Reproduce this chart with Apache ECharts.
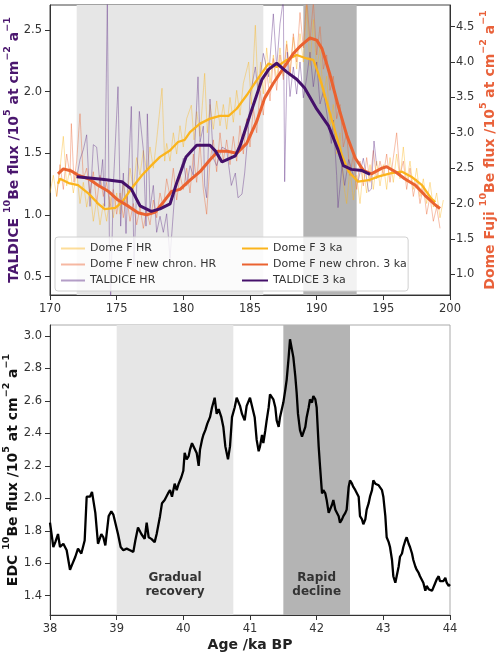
<!DOCTYPE html>
<html><head><meta charset="utf-8">
<script src="https://cdn.jsdelivr.net/npm/echarts@6/dist/echarts.min.js"></script>
<style>html,body{margin:0;padding:0;background:#fff}#c{width:500px;height:657px}</style>
</head><body><div id="c"></div>
<script>
// ---- tick labels ----
const topAgeTicks = [170,175,180,185,190,195,200];
const taldiceTicks = [0.5,1.0,1.5,2.0,2.5];
const domeFTicks = [1.0,1.5,2.0,2.5,3.0,3.5,4.0,4.5];
const edcTicks = [1.4,1.6,1.8,2.0,2.2,2.4,2.6,2.8,3.0];

// ---- top panel: [age ka, flux] ----
const domeFHR = [[170.0,2.15],[170.25,2.4],[170.5,2.1],[170.75,2.5],[171.0,2.95],[171.25,2.25],[171.5,2.5],[171.75,2.15],[172.0,2.45],[172.25,2.0],[172.5,2.3],[172.75,1.95],[173.0,2.2],[173.25,1.75],[173.5,2.05],[173.75,1.7],[174.0,2.0],[174.25,1.75],[174.5,2.1],[174.75,1.8],[175.0,2.15],[175.25,1.85],[175.5,2.3],[175.75,2.0],[176.0,2.5],[176.25,2.2],[176.5,2.65],[176.75,2.4],[177.0,2.75],[177.25,2.45],[177.5,2.8],[177.75,2.5],[178.0,2.9],[178.4,3.63],[178.6,2.6],[178.75,2.85],[179.0,2.6],[179.25,3.0],[179.5,2.7],[179.75,3.1],[180.0,2.8],[180.25,3.2],[180.6,3.39],[180.8,2.9],[181.0,3.3],[181.25,2.95],[181.6,3.84],[181.8,3.0],[182.0,3.4],[182.25,3.05],[182.5,3.45],[182.75,3.1],[183.0,3.4],[183.25,3.05],[183.5,3.5],[183.75,3.15],[184.0,3.6],[184.25,3.25],[184.5,3.7],[184.9,4.0],[185.1,3.4],[185.4,4.52],[185.6,3.6],[185.8,4.0],[186.0,3.55],[186.25,4.2],[186.5,3.7],[186.75,4.1],[187.0,3.75],[187.25,4.2],[187.5,3.8],[187.75,4.3],[188.0,3.85],[188.25,4.35],[188.5,3.9],[188.75,4.4],[189.0,4.0],[189.25,4.8],[189.5,3.95],[189.75,4.6],[190.0,3.9],[190.25,4.2],[190.5,3.5],[190.75,3.8],[191.0,3.1],[191.25,3.4],[191.5,2.7],[191.75,3.0],[192.0,2.3],[192.25,2.0],[192.5,2.5],[192.75,2.05],[193.0,2.4],[193.25,2.0],[193.5,2.5],[193.75,2.15],[194.0,2.55],[194.25,2.2],[194.5,2.6],[194.75,2.25],[195.0,2.55],[195.25,2.2],[195.5,2.65],[195.75,2.3],[196.0,2.7],[196.25,2.35],[196.5,2.8],[196.75,2.3],[197.0,2.6],[197.25,2.2],[197.5,2.5],[197.75,2.1],[198.0,2.35],[198.25,2.0],[198.5,2.3],[198.75,1.95],[199.0,2.15],[199.25,1.8],[199.5,2.05]];

const domeFNewHR = [[170.5,2.1],[170.75,2.55],[171.0,2.2],[171.25,2.7],[171.5,2.4],[171.6,3.13],[171.8,2.3],[172.0,2.6],[172.25,3.27],[172.5,2.35],[172.75,2.5],[173.0,2.15],[173.25,2.45],[173.5,2.0],[173.75,2.4],[174.0,2.1],[174.25,2.3],[174.5,1.95],[174.75,2.2],[175.0,1.85],[175.25,2.15],[175.5,1.8],[175.75,2.1],[176.0,1.75],[176.25,2.0],[176.5,1.7],[176.75,1.95],[177.0,1.65],[177.25,1.9],[177.5,1.7],[177.75,2.05],[178.0,1.8],[178.25,2.15],[178.5,1.95],[178.75,2.35],[179.0,2.1],[179.25,2.5],[179.5,2.05],[179.75,2.4],[180.0,2.2],[180.25,2.5],[180.5,2.15],[180.75,2.7],[181.0,2.3],[181.25,2.85],[181.5,2.2],[181.75,1.85],[182.0,2.6],[182.25,2.9],[182.5,2.45],[182.75,3.0],[183.0,2.6],[183.25,2.9],[183.5,2.55],[183.75,2.95],[184.0,2.6],[184.25,3.1],[184.5,2.7],[184.75,3.2],[185.0,2.8],[185.25,3.35],[185.5,3.0],[185.75,3.6],[186.0,3.25],[186.25,3.9],[186.5,3.45],[186.75,4.05],[187.0,3.6],[187.25,4.1],[187.5,3.75],[187.75,4.25],[188.0,3.8],[188.25,4.4],[188.5,4.0],[188.75,4.7],[189.0,4.2],[189.25,4.9],[189.5,4.3],[189.75,4.85],[190.0,4.1],[190.25,4.5],[190.5,3.9],[190.75,4.1],[191.0,3.6],[191.25,3.8],[191.5,3.2],[191.75,3.4],[192.0,2.8],[192.25,3.0],[192.5,2.4],[192.75,2.7],[193.0,2.2],[193.25,2.6],[193.5,2.25],[193.75,2.65],[194.0,2.3],[194.25,2.75],[194.5,2.35],[194.75,2.6],[195.0,2.4],[195.25,2.7],[195.5,2.3],[195.75,2.65],[196.0,3.0],[196.25,2.4],[196.5,2.6],[196.75,2.2],[197.0,2.5],[197.25,2.1],[197.5,2.35],[197.75,2.0],[198.0,2.25],[198.25,1.85],[198.5,2.1],[198.75,1.75],[199.0,1.95],[199.25,1.65]];

const taldiceHR = [[172.0,1.30],[172.25,1.45],[172.5,1.53],[172.75,1.65],[173.0,1.07],[173.25,1.57],[173.5,1.55],[173.75,1.24],[173.95,1.45],[174.1,1.07],[174.3,2.75],[174.45,0.83],[174.55,0.30],[174.75,1.24],[175.1,2.04],[175.3,0.91],[175.5,1.34],[175.7,0.85],[176.1,1.88],[176.3,0.60],[176.45,1.07],[176.7,1.84],[177.0,1.53],[177.2,0.91],[177.3,1.82],[177.5,1.05],[177.75,1.24],[178.0,0.86],[178.25,0.99],[178.5,0.86],[178.75,1.01],[179.0,0.65],[179.4,1.24],[179.75,1.34],[180.0,1.46],[180.25,1.24],[180.5,1.40],[180.75,1.32],[181.1,2.12],[181.25,1.59],[181.5,1.72],[181.6,1.24],[181.75,1.14],[182.0,1.94],[182.25,1.46],[182.5,1.40],[182.9,1.55],[183.25,1.53],[183.6,1.24],[183.9,1.34],[184.1,1.14],[184.4,1.17],[184.6,1.34],[184.9,1.72],[185.0,1.96],[185.4,2.20],[185.6,2.00],[186.0,2.31],[186.4,2.12],[186.75,2.63],[187.0,2.20],[187.25,2.55],[187.5,2.75],[187.6,1.27],[187.8,2.32],[188.0,1.96],[188.25,2.20],[188.5,1.98],[188.75,2.24],[189.0,1.95],[189.25,2.11],[189.5,2.32],[189.75,2.04],[190.0,2.24],[190.25,1.90],[190.5,2.00],[190.9,1.73],[191.1,1.58],[191.25,1.77],[191.5,1.32],[191.6,1.06],[191.9,1.40],[192.1,1.24],[192.4,1.45],[192.75,1.32],[193.1,1.27],[193.5,1.46],[193.9,1.19],[194.1,1.21],[194.3,1.60],[194.5,1.40]];

const domeF3ka = [[170.6,2.28],[170.75,2.35],[171.4,2.29],[172.1,2.26],[172.9,2.14],[173.6,2.00],[174.1,1.92],[174.9,1.94],[175.4,2.02],[176.1,2.21],[176.9,2.40],[177.6,2.54],[178.25,2.66],[179.0,2.75],[179.6,2.87],[180.1,2.90],[180.5,3.01],[181.25,3.13],[182.0,3.20],[182.75,3.24],[183.4,3.24],[184.0,3.34],[184.75,3.53],[185.5,3.74],[186.4,3.98],[187.0,3.93],[187.75,4.03],[188.5,4.10],[189.25,4.05],[189.75,4.03],[190.1,3.85],[190.4,3.67],[190.9,3.34],[191.4,3.01],[191.9,2.68],[192.4,2.45],[193.1,2.31],[193.9,2.33],[194.6,2.38],[195.6,2.43],[196.4,2.45],[197.1,2.38],[197.9,2.26],[198.6,2.07],[198.9,2.02]];

const domeFNew3ka = [[170.6,2.42],[171.0,2.49],[171.6,2.46],[172.1,2.40],[172.9,2.35],[173.6,2.26],[174.4,2.17],[175.1,2.05],[175.9,1.96],[176.6,1.87],[177.25,1.84],[177.9,1.88],[178.5,2.02],[179.1,2.17],[179.75,2.20],[180.5,2.33],[181.25,2.45],[182.0,2.62],[182.6,2.74],[183.3,2.74],[184.0,2.71],[184.75,2.85],[185.5,3.16],[186.1,3.49],[186.75,3.70],[187.5,3.91],[188.25,4.12],[188.75,4.22],[189.5,4.34],[190.0,4.31],[190.4,4.19],[191.0,3.82],[191.6,3.39],[192.25,2.97],[192.9,2.64],[193.5,2.47],[194.1,2.42],[194.9,2.50],[195.25,2.52],[195.9,2.45],[196.6,2.35],[197.4,2.26],[198.1,2.12],[198.9,1.98],[199.25,1.93]];

const taldice3ka = [[172.0,1.31],[173.9,1.29],[175.4,1.27],[176.1,1.21],[176.75,1.075],[177.6,1.03],[178.25,1.05],[179.0,1.09],[179.5,1.26],[180.2,1.47],[181.0,1.565],[182.0,1.565],[182.4,1.52],[182.9,1.43],[183.9,1.48],[184.25,1.56],[185.0,1.81],[185.9,2.10],[186.4,2.18],[187.0,2.23],[187.75,2.16],[188.5,2.10],[189.1,2.03],[190.0,1.86],[190.9,1.72],[191.6,1.53],[192.0,1.40],[192.6,1.37],[193.4,1.36],[194.0,1.33]];

// ---- bottom panel: EDC [age ka, flux] ----
const edc = [[38.0,1.85],[38.05,1.70],[38.08,1.73],[38.12,1.78],[38.15,1.70],[38.2,1.72],[38.25,1.68],[38.3,1.56],[38.33,1.59],[38.38,1.64],[38.42,1.69],[38.47,1.66],[38.52,1.74],[38.55,2.01],[38.6,2.01],[38.63,2.04],[38.68,1.91],[38.72,1.72],[38.77,1.78],[38.8,1.76],[38.83,1.71],[38.88,1.89],[38.92,1.92],[38.95,1.90],[38.98,1.91],[39.02,1.78],[39.06,1.70],[39.1,1.68],[39.15,1.69],[39.2,1.68],[39.25,1.67],[39.28,1.74],[39.32,1.82],[39.37,1.78],[39.42,1.75],[39.45,1.85],[39.48,1.76],[39.52,1.75],[39.57,1.73],[39.6,1.78],[39.65,1.89],[39.68,1.97],[39.72,1.99],[39.77,2.03],[39.8,2.05],[39.83,2.01],[39.87,2.09],[39.9,2.05],[39.93,2.09],[39.97,2.13],[40.0,2.17],[40.02,2.28],[40.05,2.24],[40.08,2.26],[40.1,2.30],[40.13,2.34],[40.15,2.35],[40.2,2.28],[40.23,2.20],[40.25,2.30],[40.28,2.36],[40.3,2.39],[40.33,2.42],[40.36,2.46],[40.4,2.50],[40.43,2.56],[40.47,2.62],[40.5,2.52],[40.53,2.55],[40.57,2.50],[40.6,2.44],[40.63,2.32],[40.67,2.24],[40.7,2.32],[40.73,2.50],[40.77,2.56],[40.8,2.62],[40.85,2.57],[40.88,2.52],[40.92,2.48],[40.95,2.57],[41.0,2.62],[41.03,2.61],[41.07,2.50],[41.1,2.36],[41.13,2.29],[41.15,2.32],[41.18,2.39],[41.2,2.34],[41.23,2.42],[41.25,2.48],[41.28,2.56],[41.3,2.64],[41.33,2.65],[41.35,2.61],[41.38,2.56],[41.4,2.48],[41.43,2.44],[41.45,2.50],[41.48,2.50],[41.5,2.59],[41.53,2.67],[41.55,2.73],[41.58,2.87],[41.6,2.98],[41.63,2.97],[41.65,2.87],[41.68,2.75],[41.7,2.65],[41.72,2.52],[41.75,2.42],[41.78,2.38],[41.8,2.38],[41.83,2.44],[41.85,2.50],[41.88,2.56],[41.9,2.61],[41.93,2.59],[41.95,2.63],[41.98,2.61],[42.0,2.56],[42.03,2.32],[42.05,2.20],[42.08,2.03],[42.1,2.05],[42.13,2.03],[42.15,1.99],[42.18,1.91],[42.2,1.91],[42.23,1.96],[42.25,1.99],[42.28,1.93],[42.3,1.92],[42.33,1.89],[42.35,1.85],[42.38,1.87],[42.4,1.89],[42.43,1.91],[42.45,1.93],[42.48,2.07],[42.5,2.11],[42.53,2.09],[42.55,2.07],[42.58,2.05],[42.6,2.04],[42.63,2.01],[42.65,1.89],[42.68,1.87],[42.7,1.84],[42.73,1.87],[42.75,1.93],[42.78,1.97],[42.8,2.01],[42.83,2.05],[42.85,2.11],[42.88,2.09],[42.9,2.09],[42.93,2.08],[42.95,2.09],[42.98,2.05],[43.0,2.01],[43.03,1.89],[43.05,1.76],[43.08,1.73],[43.1,1.70],[43.13,1.62],[43.15,1.52],[43.18,1.48],[43.2,1.49],[43.23,1.58],[43.25,1.64],[43.28,1.66],[43.3,1.70],[43.33,1.74],[43.35,1.76],[43.38,1.72],[43.4,1.70],[43.43,1.66],[43.45,1.62],[43.48,1.58],[43.5,1.56],[43.53,1.54],[43.55,1.52],[43.58,1.51],[43.6,1.48],[43.63,1.43],[43.65,1.46],[43.68,1.44],[43.7,1.45],[43.73,1.43],[43.75,1.44],[43.78,1.48],[43.8,1.50],[43.83,1.52],[43.85,1.49],[43.88,1.50],[43.9,1.49],[43.93,1.51],[43.95,1.48],[43.98,1.46],[44.0,1.47]];

// ---- shaded intervals ----
const topGradual = [172, 186];
const topRapid = [189, 193];
const edcGradual = [39, 40.75];
const edcRapid = [41.5, 42.5];

const F = 'DejaVu Sans';
const C_TAL = '#44106a', C_NEW = '#ea6230', C_DF = '#fbb41c';

function yAx(grid, pos, min, max, ticks, name, nameColor, gap, lblMargin) {
  return {
    gridIndex: grid, type: 'value', position: pos, min: min, max: max,
    axisLine: { show: true, onZero: false, lineStyle: { color: '#333' } },
    axisTick: { show: true, length: 5, customValues: ticks, lineStyle: { color: '#333' } },
    axisLabel: { customValues: ticks, formatter: v => v.toFixed(1), color: '#333', fontSize: 11.5, fontFamily: F, margin: lblMargin },
    splitLine: { show: false },
    name: name, nameLocation: 'middle', nameRotate: 90, nameGap: gap, nameMoveOverlap: false,
    nameTextStyle: { color: nameColor, fontWeight: 'bold', fontSize: 14, fontFamily: F, lineHeight: 22,
      rich: { s: { fontSize: 9.5, fontWeight: 'bold', color: nameColor, fontFamily: F, verticalAlign: 'top', lineHeight: 22 } } }
  };
}
function xAx(grid, min, max, step, name) {
  return {
    gridIndex: grid, type: 'value', min: min, max: max, interval: step,
    axisLine: { show: true, onZero: false, lineStyle: { color: '#333' } },
    axisTick: { show: true, length: 5, lineStyle: { color: '#333' } },
    axisLabel: { color: '#333', fontSize: 11.5, fontFamily: F, margin: 8 },
    splitLine: { show: false },
    name: name, nameLocation: 'middle', nameGap: 23,
    nameTextStyle: { color: '#222', fontWeight: 'bold', fontSize: 14, fontFamily: F }
  };
}
function ln(name, data, color, width, opacity, xi, yi, z) {
  return { name: name, type: 'line', data: data, xAxisIndex: xi, yAxisIndex: yi, showSymbol: false, symbol: 'none',
    z: z, clip: true, lineStyle: { color: color, width: width, opacity: opacity }, itemStyle: { color: color, opacity: 0 } };
}

const chart = echarts.init(document.getElementById('c'), null, { renderer: 'canvas' });
chart.setOption({
  animation: false,
  textStyle: { fontFamily: F },
  grid: [
    { left: 50, top: 5, width: 400, height: 290, outerBoundsMode: 'none', containLabel: false, show: true, borderColor: '#444', borderWidth: 1, backgroundColor: 'transparent' },
    { left: 50, top: 325, width: 400, height: 290, outerBoundsMode: 'none', containLabel: false, show: true, borderColor: '#aaa', borderWidth: 1, backgroundColor: 'transparent' }
  ],
  xAxis: [ xAx(0, 170, 200, 5, ''), xAx(1, 38, 44, 1, 'Age /ka BP') ],
  yAxis: [
    yAx(0, 'left', 0.352, 2.702, taldiceTicks, 'TALDICE {s|10}Be flux /10{s|5} at cm{s|−2} a{s|−1}', '#4a166e', 25, 8),
    yAx(0, 'right', 0.708, 4.806, domeFTicks, 'Dome Fuji {s|10}Be flux /10{s|5} at cm{s|−2} a{s|−1}', '#e9613a', 29, 6),
    yAx(1, 'left', 1.281, 3.068, edcTicks, 'EDC {s|10}Be flux /10{s|5} at cm{s|−2} a{s|−1}', '#111', 26, 8)
  ],
  legend: [
    { left: 55, top: 237, orient: 'vertical', z: 6,
      data: ['Dome F HR', 'Dome F new chron. HR', 'TALDICE HR'],
      itemWidth: 24, itemHeight: 8, itemGap: 5, padding: [6, 192, 5, 5],
      itemStyle: { opacity: 0 },
      backgroundColor: 'rgba(255,255,255,0.82)', borderColor: '#d0d0d0', borderWidth: 1, borderRadius: 3,
      textStyle: { fontSize: 11, color: '#333', fontFamily: F } },
    { left: 236, top: 237, orient: 'vertical', z: 7,
      data: ['Dome F 3 ka', 'Dome F new chron. 3 ka', 'TALDICE 3 ka'],
      itemWidth: 26, itemHeight: 8, itemGap: 5, padding: [6, 5, 5, 5],
      itemStyle: { opacity: 0 },
      textStyle: { fontSize: 11, color: '#333', fontFamily: F } }
  ],
  series: [
    { type: 'line', xAxisIndex: 0, yAxisIndex: 0, data: [], z: 1, silent: true,
      markArea: { silent: true, itemStyle: { color: '#e6e6e6' },
        data: [
          [{ xAxis: topGradual[0] }, { xAxis: topGradual[1] }],
          [{ xAxis: topRapid[0], itemStyle: { color: '#b4b4b4' } }, { xAxis: topRapid[1] }]
        ] } },
    { type: 'line', xAxisIndex: 1, yAxisIndex: 2, data: [], z: 1, silent: true,
      markArea: { silent: true, itemStyle: { color: '#e6e6e6' },
        label: { show: true, position: 'insideBottom', distance: 16, fontWeight: 'bold', fontSize: 12, color: '#333', lineHeight: 14, fontFamily: F },
        data: [
          [{ xAxis: edcGradual[0], name: 'Gradual\nrecovery' }, { xAxis: edcGradual[1] }],
          [{ xAxis: edcRapid[0], name: 'Rapid\ndecline', itemStyle: { color: '#b4b4b4' } }, { xAxis: edcRapid[1] }]
        ] } },
    ln('Dome F HR', domeFHR, C_DF, 0.9, 0.45, 0, 1, 2),
    ln('Dome F new chron. HR', domeFNewHR, C_NEW, 0.9, 0.45, 0, 1, 2),
    ln('TALDICE HR', taldiceHR, '#6a3d8f', 0.9, 0.5, 0, 0, 2),
    ln('Dome F 3 ka', domeF3ka, C_DF, 2.3, 1, 0, 1, 3),
    ln('Dome F new chron. 3 ka', domeFNew3ka, C_NEW, 3, 1, 0, 1, 3),
    ln('TALDICE 3 ka', taldice3ka, C_TAL, 3, 1, 0, 0, 3),
    ln('EDC', edc, '#000', 2.3, 1, 1, 2, 3)
  ]
});
</script>
</body></html>
